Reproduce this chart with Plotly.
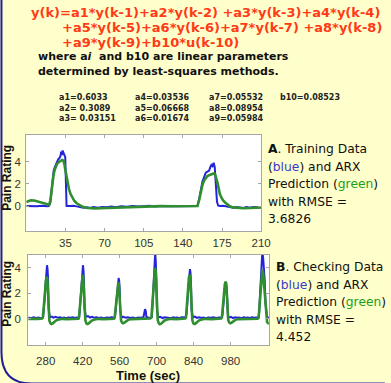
import plotly.graph_objects as go

W, H = 391, 383

# ---------------- data ----------------
train_t_blue = [0, 3, 6, 9, 12, 15, 18, 20, 21.5, 22.5, 23.5, 24.5, 25.5, 26.5, 27.5, 28.5, 29.5, 30.5,
                31.2, 31.8, 32.5, 33.2, 34, 34.8, 35.3, 36, 39, 42, 45, 48, 51, 54, 57, 60, 64, 68, 72,
                76, 80, 85, 90, 95, 100, 105, 110, 115, 120, 125, 130, 135, 140, 145, 150, 153, 154.5,
                156, 157.5, 159, 160.5, 162, 163.5, 164.5, 165.5, 166.5, 167.5, 168.5, 169.5, 170.5,
                171.5, 173, 176, 179, 182, 185, 188, 191, 194, 197, 200, 203, 206, 210]
train_blue = [0.0, -0.02, 0.02, -0.03, 0.0, 0.03, -0.02, 0.0, 0.3, 1.4, 2.5, 3.2, 3.5, 3.8, 3.9, 4.2,
              4.3, 4.5, 4.9, 4.6, 5.0, 4.7, 4.6, 4.4, 1.5, 0.0, 0.0, 0.02, -0.03, -0.1, -0.15, -0.12,
              -0.18, -0.1, -0.15, -0.08, -0.12, -0.05, -0.1, -0.03, -0.06, 0.0, -0.05, -0.02, 0.02,
              -0.04, 0.0, -0.03, 0.01, -0.02, 0.0, -0.03, 0.0, 0.0, 0.6, 1.6, 2.2, 2.6, 3.0, 3.1, 3.2,
              3.5, 3.7, 3.6, 3.9, 3.5, 1.5, 0.4, 0.05, 0.0, 0.02, -0.05, -0.1, -0.15, -0.08, -0.12,
              -0.18, -0.1, -0.15, -0.08, -0.12, -0.1]

train_t_green = [0, 2, 4, 7, 10, 13, 16, 19, 20.5, 21.5, 22.5, 23.5, 24.5, 25.5, 26.5, 27.5, 29, 30.5,
                 32, 33, 34, 35, 36, 37, 38, 39.5, 41, 43, 45, 47.5, 50, 53, 57, 61, 66, 72, 78, 85,
                 92, 100, 110, 120, 130, 140, 150, 153, 154.5, 156, 157.5, 159, 160.5, 162, 164, 166,
                 168, 169, 170, 171, 172, 173, 174.5, 176, 178, 180, 182, 185, 189, 194, 200, 205, 210]
train_green = [0.35, 0.45, 0.52, 0.5, 0.42, 0.35, 0.25, 0.15, 0.12, 0.5, 1.5, 2.3, 2.9, 3.3, 3.6, 3.8,
               3.95, 4.05, 4.15, 4.1, 3.8, 3.2, 2.6, 2.1, 1.6, 1.1, 0.75, 0.45, 0.25, 0.1, -0.05,
               -0.15, -0.2, -0.22, -0.2, -0.18, -0.15, -0.1, -0.06, -0.03, -0.02, -0.01, -0.02, -0.01,
               0.0, 0.0, 0.5, 1.3, 1.9, 2.3, 2.55, 2.7, 2.8, 2.9, 2.95, 2.8, 2.5, 2.1, 1.6, 1.1, 0.75,
               0.5, 0.3, 0.12, -0.02, -0.12, -0.18, -0.2, -0.18, -0.15, -0.12]

check_t_blue = [214, 224, 234, 244, 254, 262, 270, 271, 276, 279, 282, 285, 287, 289, 291, 293, 296,
                303, 310, 318, 326, 334, 342, 350, 358, 366, 374, 382, 390, 398, 406, 408, 412, 415,
                418, 421, 423, 425, 427, 429, 432, 440, 448, 456, 464, 472, 480, 490, 500, 510, 520,
                530, 540, 543, 547, 550, 553, 556, 558, 560, 562, 564, 567, 575, 583, 591, 600, 610,
                620, 630, 640, 650, 653, 656, 659, 661, 668, 676, 682, 684, 687, 690, 693, 695, 697,
                699, 701, 703, 706, 714, 722, 730, 738, 746, 754, 762, 770, 778, 786, 794, 802, 810,
                813, 817, 820, 823, 826, 828, 830, 832, 834, 837, 845, 853, 861, 869, 877, 885, 895,
                905, 915, 925, 935, 945, 949, 953, 956, 959, 962, 964, 966, 968, 970, 973, 981, 989,
                997, 1005, 1013, 1021, 1029, 1037, 1045, 1053, 1061, 1069, 1077, 1085, 1088, 1091,
                1094, 1097, 1100, 1103, 1106, 1109, 1112, 1115, 1118, 1125]
check_blue = [0.1, 0.05, 0.12, 0.06, 0.1, 0.04, 0.1, 0.3, 1.5, 2.6, 3.4, 4.2, 3.9, 3.2, 0.8, 0.2, 0.12,
              0.18, 0.1, 0.15, 0.08, 0.12, 0.06, 0.1, 0.05, 0.1, 0.08, 0.12, 0.06, 0.1, 0.08, 0.4, 1.6,
              2.7, 3.6, 4.2, 3.8, 3.0, 0.8, 0.2, 0.15, 0.22, 0.1, 0.15, 0.08, 0.12, 0.06, 0.1, 0.05,
              0.1, 0.08, 0.12, 0.06, 0.3, 1.3, 2.2, 2.9, 3.2, 3.0, 2.4, 0.7, 0.2, 0.12, 0.15, 0.08,
              0.12, 0.06, 0.1, 0.05, 0.1, 0.08, 0.12, 0.5, 0.75, 0.6, 0.15, 0.1, 0.05, 0.15, 1.2, 2.6,
              3.8, 4.6, 5.3, 4.4, 3.2, 0.8, 0.2, 0.1, 0.15, 0.06, 0.12, 0.08, 0.1, 0.05, 0.12, 0.08,
              0.1, 0.05, 0.12, 0.08, 0.1, 0.4, 1.6, 2.7, 3.4, 3.9, 3.6, 2.8, 0.7, 0.2, 0.12, 0.18,
              0.08, 0.12, 0.06, 0.1, 0.05, 0.1, 0.08, 0.12, 0.06, 0.1, 0.08, 0.3, 1.3, 2.1, 2.6, 2.8,
              2.6, 2.0, 0.6, 0.15, 0.1, 0.15, 0.06, 0.12, 0.08, 0.1, 0.05, 0.12, 0.08, 0.1, 0.06,
              0.12, 0.08, 0.1, 0.06, 0.5, 1.8, 3.0, 4.2, 5.3, 4.8, 4.0, 3.0, 1.2, 0.3, 0.12, 0.1]

check_t_green = [214, 230, 250, 266, 269, 273, 277, 281, 284, 286, 288, 290, 292, 294, 298, 302, 307,
                 313, 320, 330, 345, 360, 375, 390, 404, 406, 410, 414, 417, 420, 422, 424, 426, 428,
                 430, 434, 438, 443, 449, 456, 466, 480, 500, 520, 538, 541, 545, 549, 552, 555, 557,
                 559, 561, 563, 565, 569, 573, 578, 584, 592, 605, 620, 640, 660, 675, 680, 684, 688,
                 691, 694, 696, 698, 700, 702, 704, 708, 712, 717, 723, 730, 740, 755, 775, 795, 808,
                 811, 815, 819, 822, 825, 827, 829, 831, 833, 835, 839, 843, 848, 854, 861, 871, 885,
                 910, 930, 944, 947, 951, 955, 958, 961, 963, 965, 967, 969, 971, 975, 979, 984, 990,
                 998, 1010, 1030, 1060, 1082, 1086, 1090, 1094, 1097, 1100, 1103, 1106, 1109, 1112,
                 1115, 1118, 1122, 1125]
check_green = [0.0, -0.02, 0.0, 0.02, 0.1, 1.0, 2.2, 3.0, 3.3, 3.2, 2.4, 1.2, 0.3, -0.15, -0.35, -0.4,
               -0.35, -0.22, -0.12, -0.05, 0.0, -0.02, 0.0, 0.01, 0.0, 0.1, 1.2, 2.4, 3.1, 3.45, 3.3,
               2.6, 1.4, 0.4, -0.1, -0.35, -0.4, -0.35, -0.22, -0.12, -0.05, 0.0, -0.02, 0.0, 0.0,
               0.1, 1.0, 2.0, 2.6, 2.85, 2.7, 2.1, 1.0, 0.3, -0.1, -0.3, -0.35, -0.3, -0.18, -0.08,
               -0.02, 0.0, -0.01, 0.0, 0.02, 0.1, 1.2, 2.6, 3.5, 4.0, 3.8, 3.0, 1.6, 0.5, -0.1, -0.35,
               -0.42, -0.38, -0.25, -0.13, -0.05, 0.0, -0.02, 0.0, 0.02, 0.1, 1.3, 2.5, 3.2, 3.45, 3.3,
               2.5, 1.3, 0.3, -0.1, -0.35, -0.4, -0.35, -0.22, -0.12, -0.05, 0.0, -0.02, 0.0, 0.02,
               0.1, 1.2, 2.2, 2.7, 2.92, 2.8, 2.2, 1.1, 0.3, -0.1, -0.3, -0.35, -0.3, -0.18, -0.08,
               -0.02, 0.0, -0.01, 0.0, 0.1, 1.3, 2.6, 3.5, 3.85, 3.6, 2.8, 1.6, 0.6, 0.0, -0.25, -0.35,
               -0.35]

top_xticks = [35, 70, 105, 140, 175, 210]
bottom_xticks = [280, 420, 560, 700, 840, 980]
y_ticks = [0, 2, 4]

eq_lines = ["y(k)=a1*y(k-1)+a2*y(k-2) +a3*y(k-3)+a4*y(k-4)",
            "+a5*y(k-5)+a6*y(k-6)+a7*y(k-7) +a8*y(k-8)",
            "+a9*y(k-9)+b10*u(k-10)"]
note_lines = ["where a<i>i</i>  and b10 are linear parameters",
              "determined by least-squares methods."]
param_columns = [["a1=0.6033", "a2= 0.3089", "a3= 0.03151"],
                 ["a4=0.03536", "a5=0.06668", "a6=0.01674"],
                 ["a7=0.05532", "a8=0.08954", "a9=0.05984"],
                 ["b10=0.08523"]]
rmse_train = "3.6826"
rmse_check = "4.452"

# ---------------- helpers ----------------
def fx(p):
    return p / W

def fy(p):
    return 1 - p / H

BLUE = "#2424d8"
GREEN = "#2f8f2f"
FRAME = "#a6a6a6"
TICKC = "#333333"

fig = go.Figure()
fig.add_trace(go.Scatter(x=train_t_blue, y=train_blue, mode="lines",
                         line=dict(color=BLUE, width=2), xaxis="x", yaxis="y", showlegend=False))
fig.add_trace(go.Scatter(x=train_t_green, y=train_green, mode="lines",
                         line=dict(color=GREEN, width=2.6), xaxis="x", yaxis="y", showlegend=False))
fig.add_trace(go.Scatter(x=check_t_blue, y=check_blue, mode="lines",
                         line=dict(color=BLUE, width=2), xaxis="x2", yaxis="y2", showlegend=False))
fig.add_trace(go.Scatter(x=check_t_green, y=check_green, mode="lines",
                         line=dict(color=GREEN, width=2.6), xaxis="x2", yaxis="y2", showlegend=False))

axis_common = dict(showline=True, linecolor=FRAME, linewidth=1, mirror="ticks", ticks="inside",
                   ticklen=3, tickcolor=FRAME, showgrid=False, zeroline=False,
                   tickfont=dict(family="Liberation Sans", size=11.5, color=TICKC))

fig.update_layout(
    width=W, height=H, margin=dict(l=0, r=0, t=0, b=0),
    paper_bgcolor="#ffffcc", plot_bgcolor="white", showlegend=False,
    xaxis=dict(domain=[fx(27), fx(268)], range=[0, 210], tickvals=top_xticks, anchor="y",
               ticklabelstandoff=1, **axis_common),
    yaxis=dict(domain=[fy(231), fy(135)], range=[-2.25, 6.4], tickvals=y_ticks, anchor="x",
               ticklabelstandoff=2, **axis_common),
    xaxis2=dict(domain=[fx(29), fx(276)], range=[214, 1125], tickvals=bottom_xticks, anchor="y2",
                ticklabelstandoff=5, **axis_common),
    yaxis2=dict(domain=[fy(345), fy(255)], range=[-2.05, 5.0], tickvals=y_ticks, anchor="x2",
                ticklabelstandoff=4, **axis_common),
)

ann = []

def add_text(x, y, text, size, color, family="DejaVu Sans", xanchor="left", angle=0):
    ann.append(dict(x=fx(x), y=fy(y), xref="paper", yref="paper", text=text, showarrow=False,
                    xanchor=xanchor, yanchor="middle", textangle=angle,
                    font=dict(family=family, size=size, color=color)))

# equation (red)
eq_pos = [(30, 12), (62, 27), (62, 42)]
for txt, (x, y) in zip(eq_lines, eq_pos):
    add_text(x, y, "<b>" + txt + "</b>", 13, "#ff3a17")
for txt, y in zip(note_lines, [57, 71]):
    add_text(37, y, "<b>" + txt + "</b>", 11, "#111111")
col_x = [58, 137, 212, 285]
row_y = [98, 108, 118]
for cx, col in zip(col_x, param_columns):
    for ry, txt in zip(row_y, col):
        add_text(cx, ry, "<b>" + txt + "</b>", 8, "#222222")

# axis titles
for cy in [178, 294]:
    add_text(7, cy, "<b>Pain Rating</b>", 12, "#111111", family="Liberation Sans",
             xanchor="center", angle=-90)
add_text(152, 375, "<b>Time (sec)</b>", 13, "#111111", family="Liberation Sans", xanchor="center")

bl = "<span style='color:#3a3ad0'>blue</span>"
gr = "<span style='color:#1aa01a'>green</span>"
a_lines = ["<b>A</b>. Training Data", "(" + bl + ") and ARX", "Prediction (" + gr + ")",
           "with RMSE =", rmse_train]
b_lines = ["<b>B</b>. Checking Data", "(" + bl + ") and ARX", "Prediction (" + gr + ")",
           "with RMSE =", rmse_check]
for txt, y in zip(a_lines, [149, 167, 184, 202, 219]):
    add_text(273, y, txt, 12.3, "#111111")
for txt, y in zip(b_lines, [267, 285, 302, 320, 337]):
    add_text(281, y, txt, 12.3, "#111111")
fig.update_layout(annotations=ann)

# rounded panel border (blue) at the left / bottom edge
path = "M {x0},{y0} L {x0},{y1} Q {x0},{y2} {x3},{y2} L {x4},{y2}".format(
    x0=fx(1.5), y0=fy(-5), y1=fy(352), y2=fy(383.5), x3=fx(32), x4=fx(395))
fig.add_shape(type="path", path=path, xref="paper", yref="paper",
              line=dict(color="#20209a", width=2))

fig.write_html("out.html", config={"displayModeBar": False},
               post_script="document.body.style.margin='0';")
